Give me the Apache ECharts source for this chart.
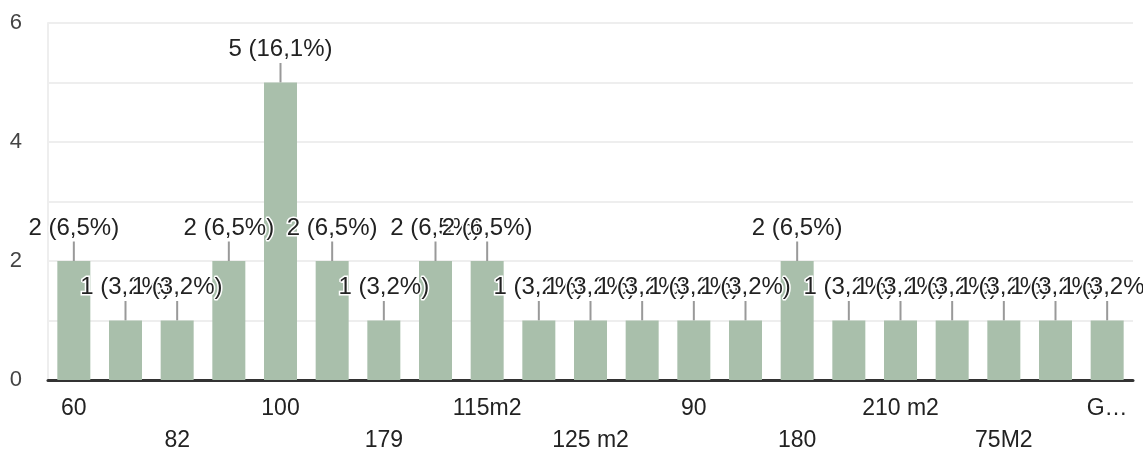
<!DOCTYPE html>
<html>
<head>
<meta charset="utf-8">
<script src="https://cdn.jsdelivr.net/npm/echarts@6/dist/echarts.min.js"></script>
<style>
  html, body { margin: 0; padding: 0; background: #fff; }
  #chart { width: 1143px; height: 452px; }
</style>
</head>
<body>
<div id="chart"></div>
<script>
// Categories (odd-index names are hidden in the reference; placeholders estimated)
const categories = ['60', '70', '82', '95', '100', '110', '179', '120', '115m2', '130', '125 m2', '85', '90', '150', '180', '200', '210 m2', '65', '75M2', '140', 'G…'];
const values = [2, 1, 1, 2, 5, 2, 1, 2, 2, 1, 1, 1, 1, 1, 2, 1, 1, 1, 1, 1, 1];
const yTicks = [0, 2, 4, 6];

const total = values.reduce((a, b) => a + b, 0);
const FONT = 'Liberation Sans, Arial, sans-serif';

const chart = echarts.init(document.getElementById('chart'));
chart.setOption({
  animation: false,
  grid: { left: 48, right: 10, top: 23, bottom: 72, outerBoundsMode: 'none', containLabel: false },
  xAxis: {
    type: 'category',
    data: categories,
    axisLine: { show: true, lineStyle: { color: '#333', width: 3 } },
    axisTick: { show: false },
    axisLabel: {
      interval: 1,
      margin: 13,
      color: '#222',
      fontSize: 23,
      fontFamily: FONT,
      lineHeight: 32,
      formatter: function (v, i) { return (i % 4 === 2) ? '\n' + v : v; }
    }
  },
  yAxis: {
    type: 'value',
    min: 0, max: 6, interval: 1,
    axisLine: { show: true, lineStyle: { color: '#eeeeee', width: 2 } },
    axisTick: { show: false },
    splitLine: { lineStyle: { color: '#eeeeee', width: 2 } },
    axisLabel: {
      margin: 26,
      color: '#444',
      fontSize: 22,
      fontFamily: FONT,
      formatter: function (v) { return yTicks.indexOf(v) >= 0 ? String(v) : ''; }
    }
  },
  series: [{
    type: 'bar',
    data: values,
    barWidth: 33,
    itemStyle: { color: '#a9bfab' },
    label: {
      show: true,
      position: 'top',
      distance: 0,
      color: '#222',
      fontSize: 24,
      fontFamily: FONT,
      textBorderColor: '#fff',
      textBorderWidth: 3,
      formatter: function (p) {
        const pct = (p.value / total * 100).toFixed(1).replace('.', ',');
        return p.value + ' (' + pct + '%)';
      }
    },
    labelLayout: { dy: -21 },
    labelLine: { show: true, lineStyle: { color: '#999', width: 2 } }
  }]
});
</script>
</body>
</html>
